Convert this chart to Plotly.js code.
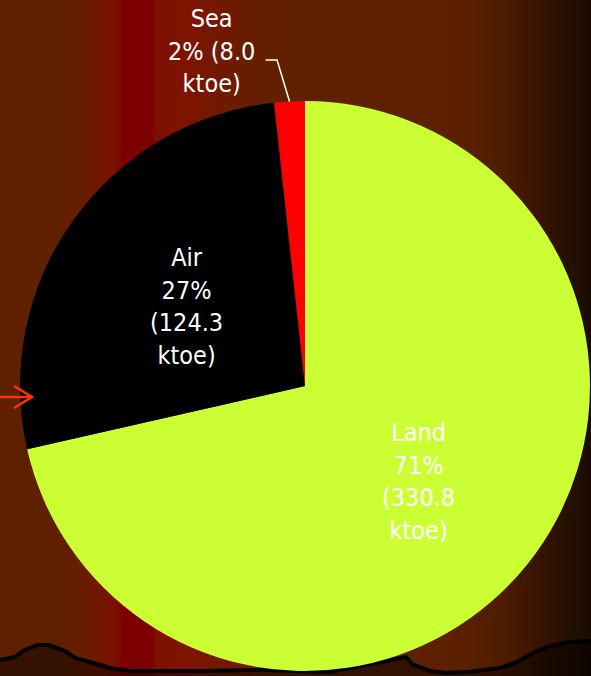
<!DOCTYPE html>
<html>
<head>
<meta charset="utf-8">
<script src="https://cdn.plot.ly/plotly-3.0.1.min.js"></script>
<style>
  html, body { margin: 0; padding: 0; }
  body {
    width: 591px; height: 676px; overflow: hidden;
    background: linear-gradient(to right,
      #5e2000 0%, #602000 10%, #6c1c00 15%, #7a1000 19.5%, #7c0000 21%,
      #7c0000 25.5%, #801000 26.5%, #7e1400 32%, #701a00 38%, #642000 44%,
      #5e2000 55%, #5c2000 78%, #4e1c00 85%, #361200 92%, #221000 97%, #1a0a02 100%);
  }
  #chart { width: 591px; height: 676px; }
</style>
</head>
<body>
<div id="chart"></div>
<script>
// Energy use by transport mode (ktoe)
const modes = ['Land', 'Air', 'Sea'];
const ktoe = [330.8, 124.3, 8.0];
const colors = ['#ccff33', '#000000', '#ff0000'];

const W = 591, H = 676;
const cx = 305, cy = 386, R = 285;   // pie centre and radius in pixels
const FONT = '"DejaVu Sans Condensed", "DejaVu Sans", sans-serif';
const FSIZE = 25;

const total = ktoe.reduce((a, b) => a + b, 0);
const pct = ktoe.map(v => Math.round(100 * v / total));
const toX = x => x / W, toY = y => 1 - y / H;

// mid-angle of each slice, clockwise from 12 o'clock
let acc = 0;
const midAngles = ktoe.map(v => { const a = 2 * Math.PI * (acc + v / 2) / total; acc += v; return a; });

// Land and Air: labels sit inside the slice, half way out along its mid-angle
const insideLabels = [0, 1].map(i => {
  const r = 0.51 * R, a = midAngles[i];
  return {
    xref: 'paper', yref: 'paper',
    x: toX(cx + r * Math.sin(a)), y: toY(cy - r * Math.cos(a) + 5),
    xanchor: 'center', yanchor: 'middle', showarrow: false, align: 'center',
    text: `${modes[i]}<br>${pct[i]}%<br>(${ktoe[i].toFixed(1)}<br>ktoe)`,
    font: { family: FONT, size: FSIZE, color: '#ffffff' }
  };
});

// Sea: label outside, joined to the slice by a leader line
const aS = midAngles[2];
const px = cx + R * Math.sin(aS), py = cy - R * Math.cos(aS);
const leader = `M ${toX(px)} ${toY(py)} L ${toX(px - 12.5)} ${toY(60)} L ${toX(px - 24)} ${toY(60)}`;
const seaLabel = {
  xref: 'paper', yref: 'paper', x: toX(211), y: toY(51),
  xanchor: 'center', yanchor: 'middle', showarrow: false, align: 'center',
  text: `${modes[2]}<br>${pct[2]}% (${ktoe[2].toFixed(1)}<br>ktoe)`,
  font: { family: FONT, size: FSIZE, color: '#ffffff' }
};

// decorative ridge line along the bottom
const ridgePts = [[0,660],[15,657],[23,651],[30,648],[38,645],[48,645],[57,648],[65,651],[75,658],
  [90,662],[110,668],[130,671],[200,671],[260,670],[330,672],[406,657],[412,664],[430,671],[445,673],
  [470,672],[500,668],[515,663],[535,652],[550,646],[570,642],[591,641]];
const ridgeLine = 'M ' + ridgePts.map(p => `${toX(p[0])} ${toY(p[1])}`).join(' L ');
const ridgeFill = ridgeLine + ` L 1 0 L 0 0 Z`;

const trace = {
  type: 'pie',
  labels: modes,
  values: ktoe,
  sort: false,
  direction: 'clockwise',
  rotation: 0,
  marker: { colors: colors, line: { width: 0 } },
  textinfo: 'none',
  textposition: 'none',
  hoverinfo: 'label+value+percent',
  showlegend: false,
  domain: { x: [(cx - R) / W, (cx + R) / W], y: [(H - cy - R) / H, (H - cy + R) / H] }
};

const layout = {
  width: W, height: H,
  margin: { l: 0, r: 0, t: 0, b: 0 },
  paper_bgcolor: 'rgba(0,0,0,0)',
  plot_bgcolor: 'rgba(0,0,0,0)',
  showlegend: false,
  shapes: [
    { type: 'path', xref: 'paper', yref: 'paper', layer: 'below', path: ridgeFill,
      fillcolor: 'rgba(0,0,0,0.45)', line: { width: 0 } },
    { type: 'path', xref: 'paper', yref: 'paper', layer: 'below', path: ridgeLine,
      line: { color: '#000000', width: 4 } },
    { type: 'path', xref: 'paper', yref: 'paper', layer: 'above', path: leader,
      line: { color: '#ffffff', width: 1.5 } },
    // pointer arrow on the left edge
    { type: 'path', xref: 'paper', yref: 'paper', layer: 'above',
      path: `M ${toX(0)} ${toY(397)} L ${toX(31)} ${toY(397)} M ${toX(14)} ${toY(386)} L ${toX(32)} ${toY(397)} L ${toX(14)} ${toY(408)}`,
      line: { color: '#ff3300', width: 2.5 } }
  ],
  annotations: [...insideLabels, seaLabel]
};

Plotly.newPlot('chart', [trace], layout, { displayModeBar: false, staticPlot: true });
</script>
</body>
</html>
